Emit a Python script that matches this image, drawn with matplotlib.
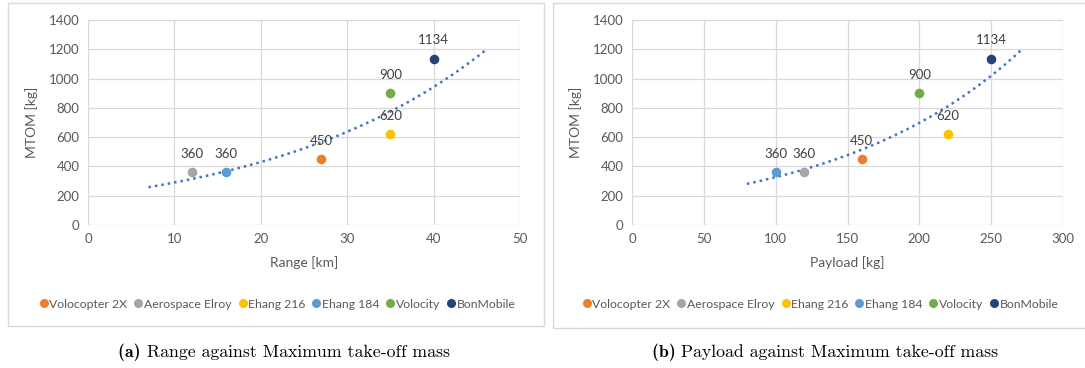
import numpy as np
import matplotlib
matplotlib.use("Agg")
import matplotlib.pyplot as plt
from matplotlib.patches import Rectangle
from matplotlib.lines import Line2D

W, H = 1085, 368
aircraft = ["Volocopter 2X", "Aerospace Elroy", "Ehang 216", "Ehang 184", "Volocity", "BonMobile"]
range_km = [27, 12, 35, 16, 35, 40]
payload_kg = [160, 120, 220, 100, 200, 250]
mtom_kg = [450, 360, 620, 360, 900, 1134]
colors = ["#ED7D31", "#A5A5A5", "#FFC000", "#5B9BD5", "#70AD47", "#264478"]
range_ticks = [0, 10, 20, 30, 40, 50]
payload_ticks = [0, 50, 100, 150, 200, 250, 300]
mtom_ticks = [0, 200, 400, 600, 800, 1000, 1200, 1400]
trend_span_a = (7, 46)
trend_span_b = (80, 271)

FONT = "Lato"
TXT = "#595959"

fig = plt.figure(figsize=(W / 100, H / 100), dpi=100)


def px_axes(l, r, t, b):
    return fig.add_axes([l / W, 1 - b / H, (r - l) / W, (b - t) / H])


def panel(l, r, t, b):
    fig.patches.append(Rectangle((l / W, 1 - b / H), (r - l) / W, (b - t) / H,
                                 transform=fig.transFigure, fill=False,
                                 edgecolor="#D9D9D9", linewidth=1.0))


def draw(ax, xs, xticks, xlabel, span, label_cx):
    ax.set_xlim(xticks[0], xticks[-1])
    ax.set_ylim(mtom_ticks[0], mtom_ticks[-1])
    ax.set_xticks(xticks)
    ax.set_yticks(mtom_ticks)
    ax.grid(True, color="#D9D9D9", linewidth=0.9)
    ax.set_axisbelow(True)
    for s in ax.spines.values():
        s.set_visible(False)
    ax.tick_params(length=0, labelsize=9.5, labelcolor=TXT, pad=6)
    for lab in ax.get_xticklabels() + ax.get_yticklabels():
        lab.set_fontfamily(FONT)
    ax.set_xlabel(xlabel, fontsize=10, color=TXT, family=FONT, labelpad=8)
    ax.set_ylabel("MTOM [kg]", fontsize=10, color=TXT, family=FONT, labelpad=8)
    # exponential trendline fitted to the data
    b, a = np.polyfit(np.array(xs, float), np.log(np.array(mtom_kg, float)), 1)
    tx = np.linspace(span[0], span[1], 200)
    ax.plot(tx, np.exp(a) * np.exp(b * tx), linestyle=(0, (1, 1.6)), color="#4472C4",
            linewidth=1.8, zorder=2)
    for x, y, c in zip(xs, mtom_kg, colors):
        ax.scatter([x], [y], s=48, color=c, zorder=3, linewidths=0)
        ax.annotate(str(y), (x, y), xytext=(0, 9), textcoords="offset points",
                    ha="center", va="bottom", fontsize=9.5, color="#404040", family=FONT,
                    zorder=4)
    handles = [Line2D([], [], marker="o", linestyle="none", color=c, markersize=5.5)
               for c in colors]
    fig.legend(handles, aircraft, loc="center", bbox_to_anchor=(label_cx / W, 1 - 304 / H),
               ncol=6, frameon=False, handletextpad=0.0, columnspacing=0.45,
               prop={"family": FONT, "size": 8.8}, labelcolor=TXT, handlelength=0.9)


panel(8, 544, 3, 326)
panel(553, 1090, 3, 328)

axa = px_axes(88, 520, 20, 225)
draw(axa, range_km, range_ticks, "Range [km]", trend_span_a, 277)
axb = px_axes(632, 1063, 20, 225)
draw(axb, payload_kg, payload_ticks, "Payload [kg]", trend_span_b, 820)

for cx, tag, rest in [(284, "(a)", "Range against Maximum take-off mass"),
                      (825, "(b)", "Payload against Maximum take-off mass")]:
    t1 = fig.text(0, 0, tag + " ", family="cmb10", fontsize=12.8)
    t2 = fig.text(0, 0, rest, family="cmr10", fontsize=12.8)
    fig.canvas.draw()
    r = fig.canvas.get_renderer()
    w1 = t1.get_window_extent(r).width
    w2 = t2.get_window_extent(r).width
    x0 = cx - (w1 + w2) / 2
    t1.set_position((x0 / W, 1 - 352 / H))
    t2.set_position(((x0 + w1) / W, 1 - 352 / H))
    t1.set_va("center")
    t2.set_va("center")

fig.savefig("out.png", dpi=100, facecolor="white")
